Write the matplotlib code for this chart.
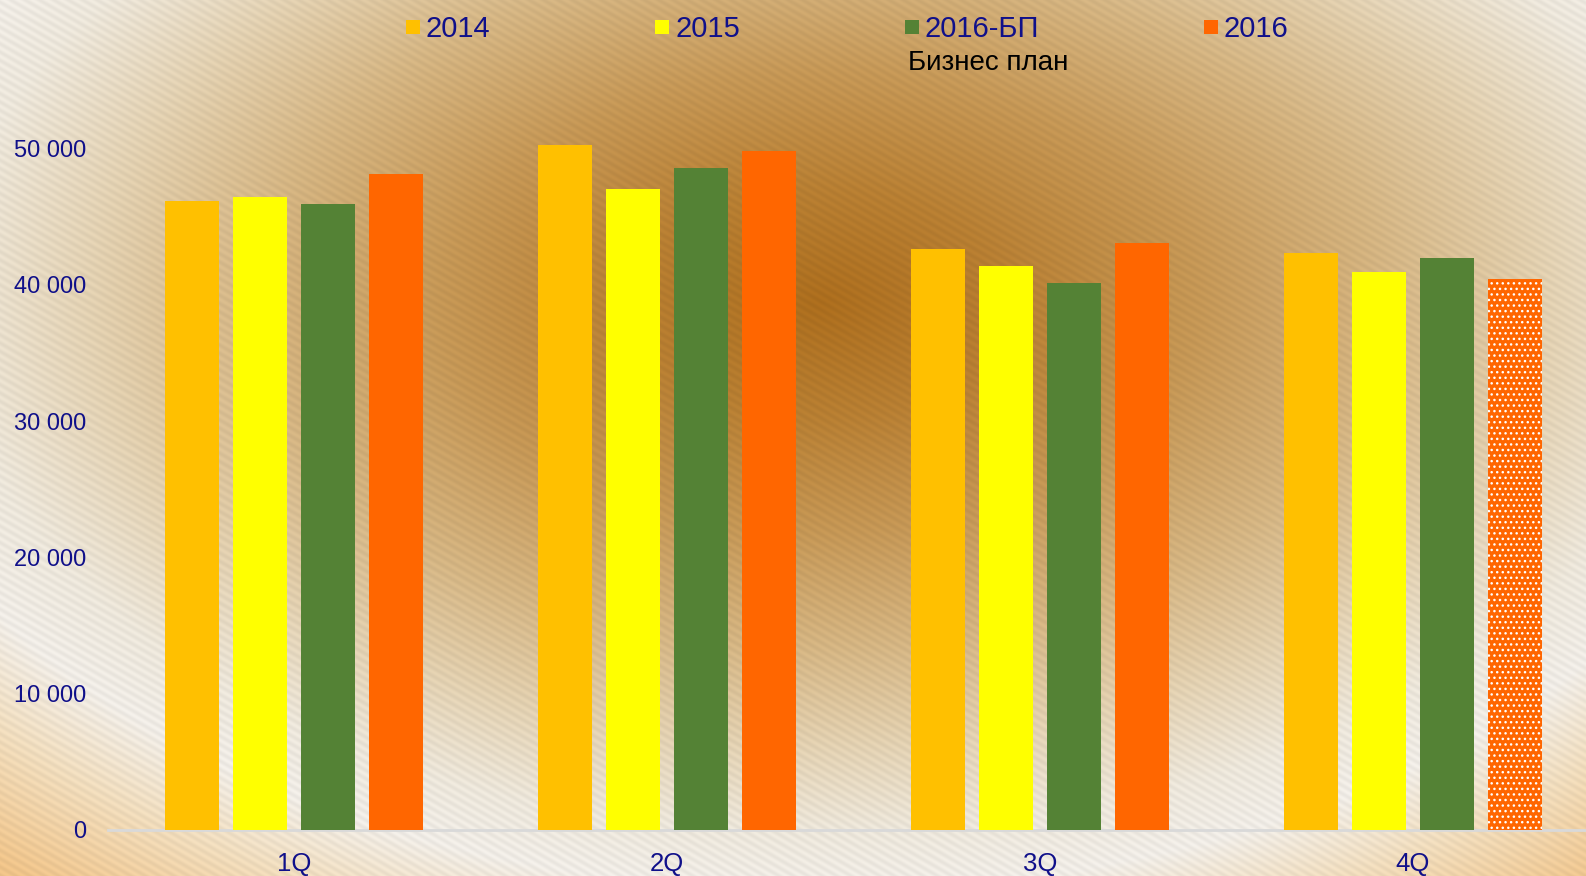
import numpy as np
import matplotlib
matplotlib.use("Agg")
import matplotlib.pyplot as plt
from matplotlib.ticker import FuncFormatter

# ---- data ----
quarters = ["1Q", "2Q", "3Q", "4Q"]
series_names = ["2014", "2015", "2016-БП", "2016"]
v2014 = [46150, 50250, 42650, 42300]
v2015 = [46450, 47050, 41400, 40950]
v2016bp = [45950, 48600, 40150, 42000]
v2016 = [48150, 49800, 43100, 40450]
forecast_2016 = [False, False, False, True]
series_values = [v2014, v2015, v2016bp, v2016]
series_colors = ["#FFC000", "#FFFF00", "#548235", "#FF6600"]
bp_note = "Бизнес план"

plt.rcParams['font.family'] = ['Liberation Sans', 'DejaVu Sans']
plt.rcParams['hatch.linewidth'] = 1.0

W, H = 1586, 876
fig = plt.figure(figsize=(W / 100, H / 100), dpi=100)

# ---- background (radial gradient + diagonal stripes) ----
yy, xx = np.mgrid[0:H, 0:W] + 0.5
d = np.sqrt(((xx - 820) / W) ** 2 + ((yy - 303) / (H * 1.1)) ** 2)
stops = [0.0, 0.12, 0.24, 0.36, 0.46, 0.55, 0.61, 0.68, 0.78]
cols = np.array([(176, 112, 30), (188, 130, 52), (202, 155, 88), (218, 186, 135),
                 (232, 214, 182), (242, 236, 224), (246, 242, 236), (246, 226, 194),
                 (245, 200, 140)], dtype=float) / 255.0
img = np.zeros((H, W, 3))
for c in range(3):
    img[..., c] = np.interp(d, stops, cols[:, c])
phase = (-xx * 0.5 + yy * 0.866) / 7.2
stripe = 1 - 0.05 * (0.5 + 0.5 * np.sin(2 * np.pi * phase))
img *= stripe[..., None]
bg = fig.add_axes([0, 0, 1, 1], zorder=-10)
bg.imshow(np.clip(img, 0, 1), aspect='auto', origin='upper', extent=(0, W, H, 0))
bg.axis('off')

# ---- main axes ----
left_px, bottom_px = 107.5, 830.0
cat_px = 373.0
px_per_10k = 136.3
ymax = 60000
ax_h = ymax / 10000 * px_per_10k
ax = fig.add_axes([left_px / W, (H - bottom_px) / H, 4 * cat_px / W, ax_h / H])
ax.set_facecolor('none')

x = np.arange(len(quarters))
width = 0.1437
step = 0.1818
handles = []
for i, (name, vals, col) in enumerate(zip(series_names, series_values, series_colors)):
    off = (i - 1.5) * step
    bars = ax.bar(x + off, vals, width, color=col, linewidth=0, label=name, zorder=3)
    handles.append(bars[0])
    if name == "2016":
        for b, fc in zip(bars, forecast_2016):
            if fc:
                b.set_hatch('...')
                b.set_edgecolor('white')
                b.set_linewidth(0)

ax.set_xlim(-0.5, 3.5)
ax.set_ylim(0, ymax)
ax.set_yticks([0, 10000, 20000, 30000, 40000, 50000])
ax.yaxis.set_major_formatter(FuncFormatter(lambda v, p: f"{int(v):,}".replace(",", " ")))
ax.set_xticks(x)
ax.set_xticklabels(quarters)
navy = '#10108a'
ax.tick_params(axis='y', length=0, pad=15.5, labelsize=17, labelcolor=navy)
ax.tick_params(axis='x', length=0, pad=16, labelsize=18.5, labelcolor=navy)
for s in ['left', 'right', 'top']:
    ax.spines[s].set_visible(False)
ax.spines['bottom'].set_color('#d9d9d9')
ax.spines['bottom'].set_linewidth(2)

# ---- legend ----
fs = 21
leg = fig.legend(handles, series_names, ncol=4, loc='center left',
                 bbox_to_anchor=(406 / W, 1 - 29 / H), frameon=False,
                 fontsize=fs, handlelength=0.48, handleheight=0.36,
                 handletextpad=0.2, columnspacing=5.65, borderpad=0,
                 borderaxespad=0)
for t in leg.get_texts():
    t.set_color(navy)
fig.text(908 / W, 1 - 70 / H, bp_note, fontsize=20, color='black', va='baseline', ha='left')

fig.savefig("out.png", dpi=100)
